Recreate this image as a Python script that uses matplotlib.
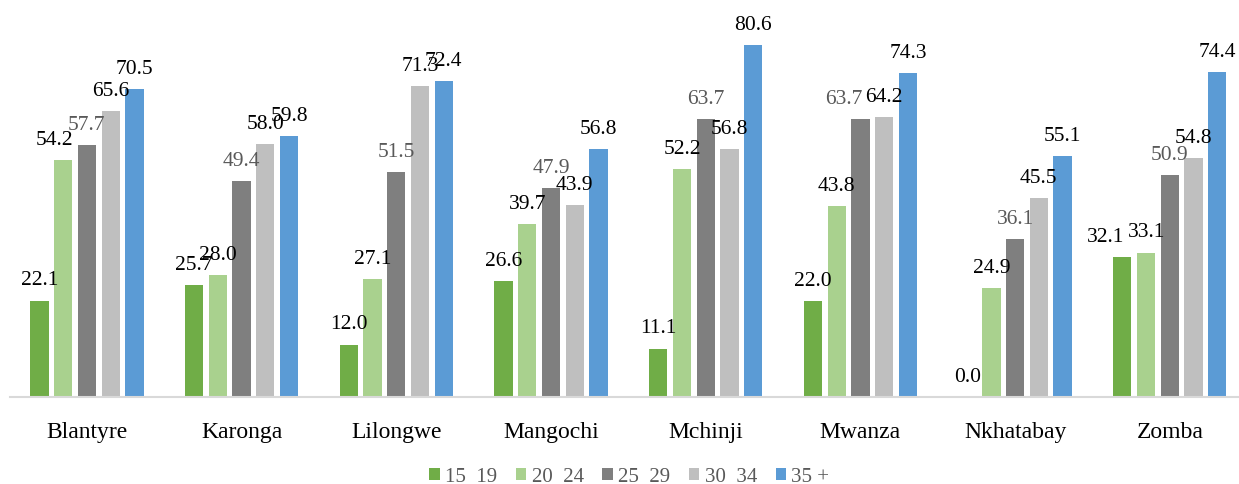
import numpy as np
import matplotlib.pyplot as plt

districts = ['Blantyre', 'Karonga', 'Lilongwe', 'Mangochi', 'Mchinji', 'Mwanza', 'Nkhatabay', 'Zomba']
age_groups = ['15  19', '20  24', '25  29', '30  34', '35 +']

v15_19 = [22.1, 25.7, 12.0, 26.6, 11.1, 22.0, 0.0, 32.1]
v20_24 = [54.2, 28.0, 27.1, 39.7, 52.2, 43.8, 24.9, 33.1]
v25_29 = [57.7, 49.4, 51.5, 47.9, 63.7, 63.7, 36.1, 50.9]
v30_34 = [65.6, 58.0, 71.3, 43.9, 56.8, 64.2, 45.5, 54.8]
v35_up = [70.5, 59.8, 72.4, 56.8, 80.6, 74.3, 55.1, 74.4]

series = [v15_19, v20_24, v25_29, v30_34, v35_up]
colors = ['#70AD47', '#A9D18E', '#7F7F7F', '#BFBFBF', '#5B9BD5']
label_colors = ['#000000', '#000000', '#595959', '#000000', '#000000']

# labels that were nudged left in the original (series, district) -> px
nudge = {(1, 0): -9, (2, 5): -17, (0, 7): -17}

plt.rcParams['font.family'] = 'serif'
plt.rcParams['font.serif'] = ['Liberation Serif', 'DejaVu Serif']

fig = plt.figure(figsize=(12.39, 4.85), dpi=100)
ax = fig.add_axes([0.0077, 0.1794, 0.9989, 0.810])

x = np.arange(len(districts))
pitch = 0.1535
width = 0.118

for i, (vals, c) in enumerate(zip(series, colors)):
    pos = x + (i - 2) * pitch
    bars = ax.bar(pos, vals, width, color=c, label=age_groups[i])
    for j, (b, v) in enumerate(zip(bars, vals)):
        dx = nudge.get((i, j), 0) * 0.72
        ax.annotate(f'{v:.1f}', (b.get_x() + b.get_width() / 2, v),
                    xytext=(dx, 8), textcoords='offset points',
                    ha='center', va='bottom', fontsize=15.5,
                    color=label_colors[i])

ax.set_xlim(-0.5, len(districts) - 0.5)
ax.set_ylim(0, 90)
ax.set_xticks(x)
ax.set_xticklabels(districts, fontsize=17)
ax.tick_params(axis='x', length=0, pad=17)
ax.set_yticks([])
for s in ['top', 'right', 'left']:
    ax.spines[s].set_visible(False)
ax.spines['bottom'].set_color('#D9D9D9')
ax.spines['bottom'].set_linewidth(1.5)

leg = fig.legend(loc='center', bbox_to_anchor=(0.508, 0.015), ncol=5,
                 frameon=False, fontsize=15, handlelength=0.5,
                 handleheight=0.5, handletextpad=0.25, columnspacing=0.9)
for t in leg.get_texts():
    t.set_color('#595959')

fig.savefig('out.png', dpi=100)
